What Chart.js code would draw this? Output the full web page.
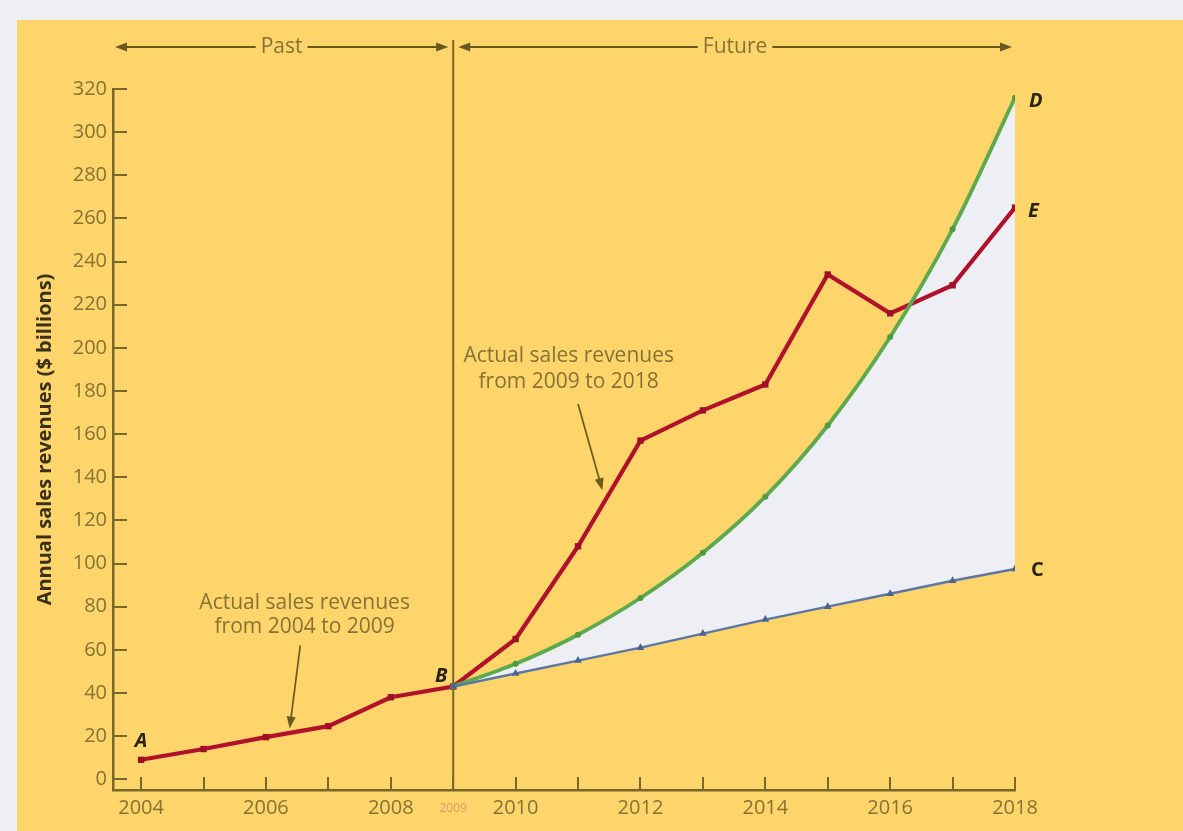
<!DOCTYPE html>
<html>
<head>
<meta charset="utf-8">
<title>Annual sales revenues</title>
<script src="https://cdn.jsdelivr.net/npm/chart.js@4.4.1/dist/chart.umd.min.js"></script>
<style>
  html, body { margin: 0; padding: 0; background: #eef0f4; }
  canvas { display: block; }
</style>
</head>
<body>
<canvas id="chart" width="1183" height="831"></canvas>
<script>
// ---- data ($ billions) ----
const actualYears = [2004, 2005, 2006, 2007, 2008, 2009, 2010, 2011, 2012, 2013, 2014, 2015, 2016, 2017, 2018];
const actualRevenue = [9, 14, 19.5, 24.6, 38, 43, 65, 108, 157, 171, 183, 234, 216, 229, 265];
const forecastYears = [2009, 2010, 2011, 2012, 2013, 2014, 2015, 2016, 2017, 2018];
const fastGrowth = [43, 53.5, 67, 84, 105, 131, 164, 205, 255, 316];
const slowGrowth = [43, 49, 55, 61, 67.5, 74, 80, 86, 92, 97.5];
const xTickValues = [2004, 2005, 2006, 2007, 2008, 2009, 2010, 2011, 2012, 2013, 2014, 2015, 2016, 2017, 2018];
const xTickLabels = ['2004', '', '2006', '', '2008', '2009', '2010', '', '2012', '', '2014', '', '2016', '', '2018'];
const yTickValues = [0, 20, 40, 60, 80, 100, 120, 140, 160, 180, 200, 220, 240, 260, 280, 300, 320];
const dividerYear = 2009;

const toPoints = (xs, ys) => xs.map((x, i) => ({ x, y: ys[i] }));

const FONT = '"Open Sans", "Liberation Sans", sans-serif';
const INK = '#6a591e';
const TEXT = '#867234';
const AXIS = '#7a682a';
const RED = '#b0122b';
const GREEN = '#5ea94d';
const BLUE = '#5d77a4';

function arrowHead(ctx, x1, y1, x2, y2, len, half) {
  const a = Math.atan2(y2 - y1, x2 - x1);
  const c = Math.cos(a), s = Math.sin(a);
  ctx.beginPath();
  ctx.moveTo(x2, y2);
  ctx.lineTo(x2 - len * c + half * s, y2 - len * s - half * c);
  ctx.lineTo(x2 - len * c - half * s, y2 - len * s + half * c);
  ctx.closePath();
  ctx.fill();
}

function arrow(ctx, x1, y1, x2, y2) {
  const a = Math.atan2(y2 - y1, x2 - x1);
  ctx.beginPath();
  ctx.moveTo(x1, y1);
  ctx.lineTo(x2 - 6 * Math.cos(a), y2 - 6 * Math.sin(a));
  ctx.stroke();
  arrowHead(ctx, x1, y1, x2, y2, 12, 4.5);
}

// Span arrow with a label sitting in a gap of the line
function spanArrow(ctx, xa, xb, y, label) {
  ctx.font = '21px ' + FONT;
  const w = ctx.measureText(label).width;
  const mid = (xa + xb) / 2;
  ctx.beginPath();
  ctx.moveTo(xa + 6, y); ctx.lineTo(mid - w / 2 - 5, y);
  ctx.moveTo(mid + w / 2 + 5, y); ctx.lineTo(xb - 6, y);
  ctx.stroke();
  arrowHead(ctx, xb, y, xa, y, 12, 4.5);
  arrowHead(ctx, xa, y, xb, y, 12, 4.5);
  ctx.fillStyle = TEXT;
  ctx.textAlign = 'center';
  ctx.textBaseline = 'middle';
  ctx.fillText(label, mid, y);
  ctx.fillStyle = INK;
}

const backdrop = {
  id: 'backdrop',
  beforeDraw(chart) {
    const { ctx, width, height } = chart;
    ctx.save();
    ctx.fillStyle = '#eef0f4';
    ctx.fillRect(0, 0, width, height);
    ctx.fillStyle = '#fdd56b';
    ctx.fillRect(17, 20, width - 17, height - 20);
    ctx.restore();
  }
};

const decorations = {
  id: 'decorations',
  beforeDatasetsDraw(chart) {
    const { ctx, scales: { x, y }, chartArea } = chart;
    ctx.save();
    // inward tick marks
    ctx.strokeStyle = AXIS;
    ctx.lineWidth = 2;
    ctx.beginPath();
    yTickValues.forEach(v => {
      const py = Math.round(y.getPixelForValue(v));
      ctx.moveTo(chartArea.left, py);
      ctx.lineTo(chartArea.left + 14, py);
    });
    xTickValues.forEach(v => {
      const px = Math.round(x.getPixelForValue(v));
      ctx.moveTo(px, chartArea.bottom);
      ctx.lineTo(px, chartArea.bottom - 13);
    });
    ctx.stroke();
    // divider between past and future
    const xd = x.getPixelForValue(dividerYear);
    ctx.beginPath();
    ctx.moveTo(xd, 40);
    ctx.lineTo(xd, chartArea.bottom);
    ctx.stroke();
    ctx.restore();
  },
  afterDatasetsDraw(chart) {
    const { ctx, scales: { x, y }, chartArea } = chart;
    const X = v => x.getPixelForValue(v);
    const Y = v => y.getPixelForValue(v);
    ctx.save();
    ctx.strokeStyle = INK;
    ctx.fillStyle = INK;
    ctx.lineWidth = 2;

    // Past / Future spans
    const xd = X(dividerYear);
    spanArrow(ctx, chartArea.left + 2, xd - 5, 47, 'Past');
    spanArrow(ctx, xd + 5, X(2018) - 3, 47, 'Future');

    // small divider-year label on the x axis
    ctx.font = '12px ' + FONT;
    ctx.fillStyle = '#e09a6a';
    ctx.textAlign = 'center';
    ctx.textBaseline = 'middle';
    ctx.fillText(xTickLabels[xTickValues.indexOf(dividerYear)], xd, chartArea.bottom + 19);

    // callouts
    ctx.font = '21px ' + FONT;
    ctx.fillStyle = TEXT;
    ctx.fillText('Actual sales revenues', X(2006.62), Y(81.5));
    ctx.fillText('from 2004 to 2009', X(2006.62), Y(70.5));
    ctx.fillText('Actual sales revenues', X(2010.85), Y(196));
    ctx.fillText('from 2009 to 2018', X(2010.85), Y(184));
    ctx.fillStyle = INK;
    ctx.strokeStyle = INK;
    ctx.lineWidth = 1.7;
    arrow(ctx, X(2006.55), Y(62), X(2006.38), Y(23.5));
    arrow(ctx, X(2011.0), Y(174), X(2011.39), Y(134));

    // point letters
    ctx.font = 'italic bold 20px ' + FONT;
    ctx.fillStyle = '#2a2418';
    ctx.textAlign = 'center';
    ctx.fillText('A', X(2004), Y(9) - 19);
    ctx.fillText('B', X(2009) - 12, Y(43) - 10);
    ctx.textAlign = 'left';
    ctx.fillText('D', X(2018) + 14, Y(316) + 4);
    ctx.fillText('E', X(2018) + 13, Y(265) + 4);
    ctx.font = 'bold 20px ' + FONT;
    ctx.fillText('C', X(2018) + 16, Y(97.5) + 1);
    ctx.restore();
  }
};

new Chart(document.getElementById('chart'), {
  type: 'line',
  data: {
    datasets: [
      {
        label: 'Slow growth',
        data: toPoints(forecastYears, slowGrowth),
        borderColor: BLUE,
        backgroundColor: '#4a6490',
        borderWidth: 2.4,
        pointStyle: 'triangle',
        pointRadius: 4.5,
        pointBorderWidth: 0,
        tension: 0,
        fill: false
      },
      {
        label: 'Fast growth',
        data: toPoints(forecastYears, fastGrowth),
        borderColor: GREEN,
        backgroundColor: '#eeeff4',
        pointBackgroundColor: '#4f9a40',
        borderWidth: 3.8,
        pointRadius: 3,
        pointBorderWidth: 0,
        cubicInterpolationMode: 'monotone',
        fill: '-1'
      },
      {
        label: 'Actual sales revenues',
        data: toPoints(actualYears, actualRevenue),
        borderColor: RED,
        backgroundColor: '#a00f27',
        borderWidth: 4.2,
        pointStyle: 'rect',
        pointRadius: 4.5,
        pointBorderWidth: 0,
        tension: 0,
        fill: false
      }
    ]
  },
  options: {
    responsive: false,
    animation: false,
    layout: { padding: { top: 89, right: 168, bottom: 0, left: 0 } },
    plugins: {
      legend: { display: false },
      tooltip: { enabled: false },
      filler: { drawTime: 'beforeDatasetsDraw' }
    },
    scales: {
      x: {
        type: 'linear',
        min: 2003.55,
        max: 2018,
        afterBuildTicks: s => { s.ticks = xTickValues.map(v => ({ value: v })); },
        afterFit: s => { s.height = 41; },
        grid: { drawOnChartArea: false, drawTicks: false },
        border: { display: true, color: AXIS, width: 2.5 },
        ticks: {
          padding: 6,
          autoSkip: false,
          maxRotation: 0,
          // the divider year gets its own smaller label, drawn by the decorations plugin
          callback: (v, i) => (xTickValues[i] === dividerYear ? '' : xTickLabels[i]),
          color: TEXT,
          font: { family: FONT, size: 20 }
        }
      },
      y: {
        type: 'linear',
        min: -5,
        max: 320,
        afterBuildTicks: s => { s.ticks = yTickValues.map(v => ({ value: v })); },
        afterFit: s => { s.width = 113; },
        grid: { drawOnChartArea: false, drawTicks: false },
        border: { display: true, color: AXIS, width: 2.5 },
        ticks: { padding: 6, color: TEXT, font: { family: FONT, size: 20 } },
        title: {
          display: true,
          text: 'Annual sales revenues ($ billions)',
          color: '#3a301c',
          font: { family: FONT, size: 20, weight: 'bold' },
          padding: { top: 33, bottom: 0 }
        }
      }
    }
  },
  plugins: [backdrop, decorations]
});
</script>
</body>
</html>
